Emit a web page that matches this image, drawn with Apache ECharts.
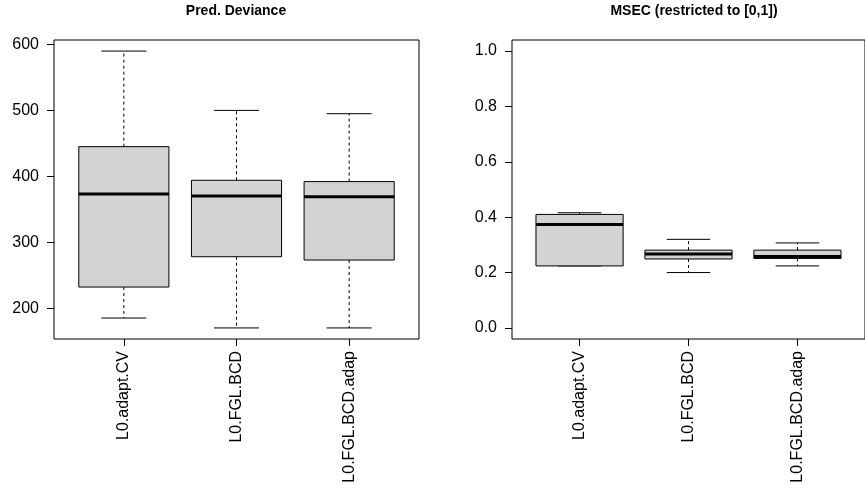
<!DOCTYPE html>
<html>
<head>
<meta charset="utf-8">
<script src="https://cdn.jsdelivr.net/npm/echarts@6/dist/echarts.min.js"></script>
<style>
html,body{margin:0;padding:0;background:#fff;}
#chart{width:865px;height:493px;}
</style>
</head>
<body>
<div id="chart"></div>
<script>
// ---- data ----
const categories = ['L0.adapt.CV', 'L0.FGL.BCD', 'L0.FGL.BCD.adap'];

const devLow  = [185, 170, 170];
const devQ1   = [232, 278, 273];
const devMed  = [373, 370, 369];
const devQ3   = [445, 394, 392];
const devHigh = [590, 500, 495];

const msecLow  = [0.224, 0.200, 0.224];
const msecQ1   = [0.224, 0.249, 0.251];
const msecMed  = [0.374, 0.267, 0.258];
const msecQ3   = [0.410, 0.281, 0.281];
const msecHigh = [0.416, 0.320, 0.307];

const devTicks  = [200, 300, 400, 500, 600];
const msecTicks = [0, 0.2, 0.4, 0.6, 0.8, 1.0];
const catPositions = [1, 2, 3];

const titles = ['Pred. Deviance', 'MSEC (restricted to [0,1])'];

// ---- chart ----
const FONT = "'Liberation Sans', Arial, Helvetica, sans-serif";
const chart = echarts.init(document.getElementById('chart'), null, {renderer: 'canvas'});

function buildData(low, q1, med, q3, high) {
  return catPositions.map((x, i) => [x, low[i], q1[i], med[i], q3[i], high[i]]);
}

function renderBox(params, api) {
  const x = api.value(0);
  const low = api.value(1), q1 = api.value(2), med = api.value(3), q3 = api.value(4), high = api.value(5);
  const hw = 0.4, sw = 0.2;
  const tl = api.coord([x - hw, q3]);
  const br = api.coord([x + hw, q1]);
  const c = (xx, yy) => api.coord([xx, yy]);
  const dash = {stroke: '#000', lineWidth: 1, lineDash: [3, 3]};
  const solid = {stroke: '#000', lineWidth: 1};
  return {
    type: 'group',
    children: [
      {type: 'line', shape: {x1: c(x, q3)[0], y1: c(x, q3)[1], x2: c(x, high)[0], y2: c(x, high)[1]}, style: dash},
      {type: 'line', shape: {x1: c(x, q1)[0], y1: c(x, q1)[1], x2: c(x, low)[0], y2: c(x, low)[1]}, style: dash},
      {type: 'line', shape: {x1: c(x - sw, high)[0], y1: c(x - sw, high)[1], x2: c(x + sw, high)[0], y2: c(x + sw, high)[1]}, style: solid},
      {type: 'line', shape: {x1: c(x - sw, low)[0], y1: c(x - sw, low)[1], x2: c(x + sw, low)[0], y2: c(x + sw, low)[1]}, style: solid},
      {type: 'rect', shape: {x: tl[0], y: tl[1], width: br[0] - tl[0], height: br[1] - tl[1]},
        style: {fill: '#d3d3d3', stroke: '#000', lineWidth: 1}},
      {type: 'line', shape: {x1: c(x - hw, med)[0], y1: c(x - hw, med)[1], x2: c(x + hw, med)[0], y2: c(x + hw, med)[1]},
        style: {stroke: '#000', lineWidth: 3}}
    ]
  };
}

function xAxisDef(gi) {
  return {
    gridIndex: gi, type: 'value', min: 0.38, max: 3.62,
    axisLine: {show: false, onZero: false}, splitLine: {show: false},
    axisTick: {show: true, customValues: catPositions, length: 7, lineStyle: {color: '#000', width: 1}},
    axisLabel: {customValues: catPositions, formatter: v => categories[Math.round(v) - 1],
      rotate: 90, fontSize: 16, color: '#000', fontFamily: FONT, margin: 12}
  };
}

function yAxisDef(gi, mn, mx, ticks, fmt) {
  return {
    gridIndex: gi, type: 'value', min: mn, max: mx,
    axisLine: {show: false, onZero: false}, splitLine: {show: false},
    axisTick: {show: true, customValues: ticks, length: 7, lineStyle: {color: '#000'}},
    axisLabel: {customValues: ticks, formatter: fmt, fontSize: 16, color: '#000', fontFamily: FONT, margin: 15}
  };
}

chart.setOption({
  animation: false,
  backgroundColor: '#fff',
  title: [
    {text: titles[0], left: 236, top: 4, textAlign: 'center', padding: 0,
      textStyle: {fontSize: 14, fontWeight: 'bold', color: '#000', fontFamily: FONT}},
    {text: titles[1], left: 694, top: 4, textAlign: 'center', padding: 0,
      textStyle: {fontSize: 14, fontWeight: 'bold', color: '#000', fontFamily: FONT}}
  ],
  grid: [
    {left: 54, top: 40, width: 365, height: 299, show: true, borderColor: '#000', borderWidth: 1, backgroundColor: 'transparent', containLabel: false},
    {left: 512, top: 40, width: 364, height: 299, show: true, borderColor: '#000', borderWidth: 1, backgroundColor: 'transparent', containLabel: false}
  ],
  xAxis: [xAxisDef(0), xAxisDef(1)],
  yAxis: [
    yAxisDef(0, 153.2, 606.8, devTicks, v => String(v)),
    yAxisDef(1, -0.04, 1.04, msecTicks, v => v.toFixed(1))
  ],
  series: [
    {type: 'custom', xAxisIndex: 0, yAxisIndex: 0, renderItem: renderBox,
      encode: {x: 0, y: [1, 2, 3, 4, 5]}, data: buildData(devLow, devQ1, devMed, devQ3, devHigh)},
    {type: 'custom', xAxisIndex: 1, yAxisIndex: 1, renderItem: renderBox,
      encode: {x: 0, y: [1, 2, 3, 4, 5]}, data: buildData(msecLow, msecQ1, msecMed, msecQ3, msecHigh)}
  ]
});
</script>
</body>
</html>
